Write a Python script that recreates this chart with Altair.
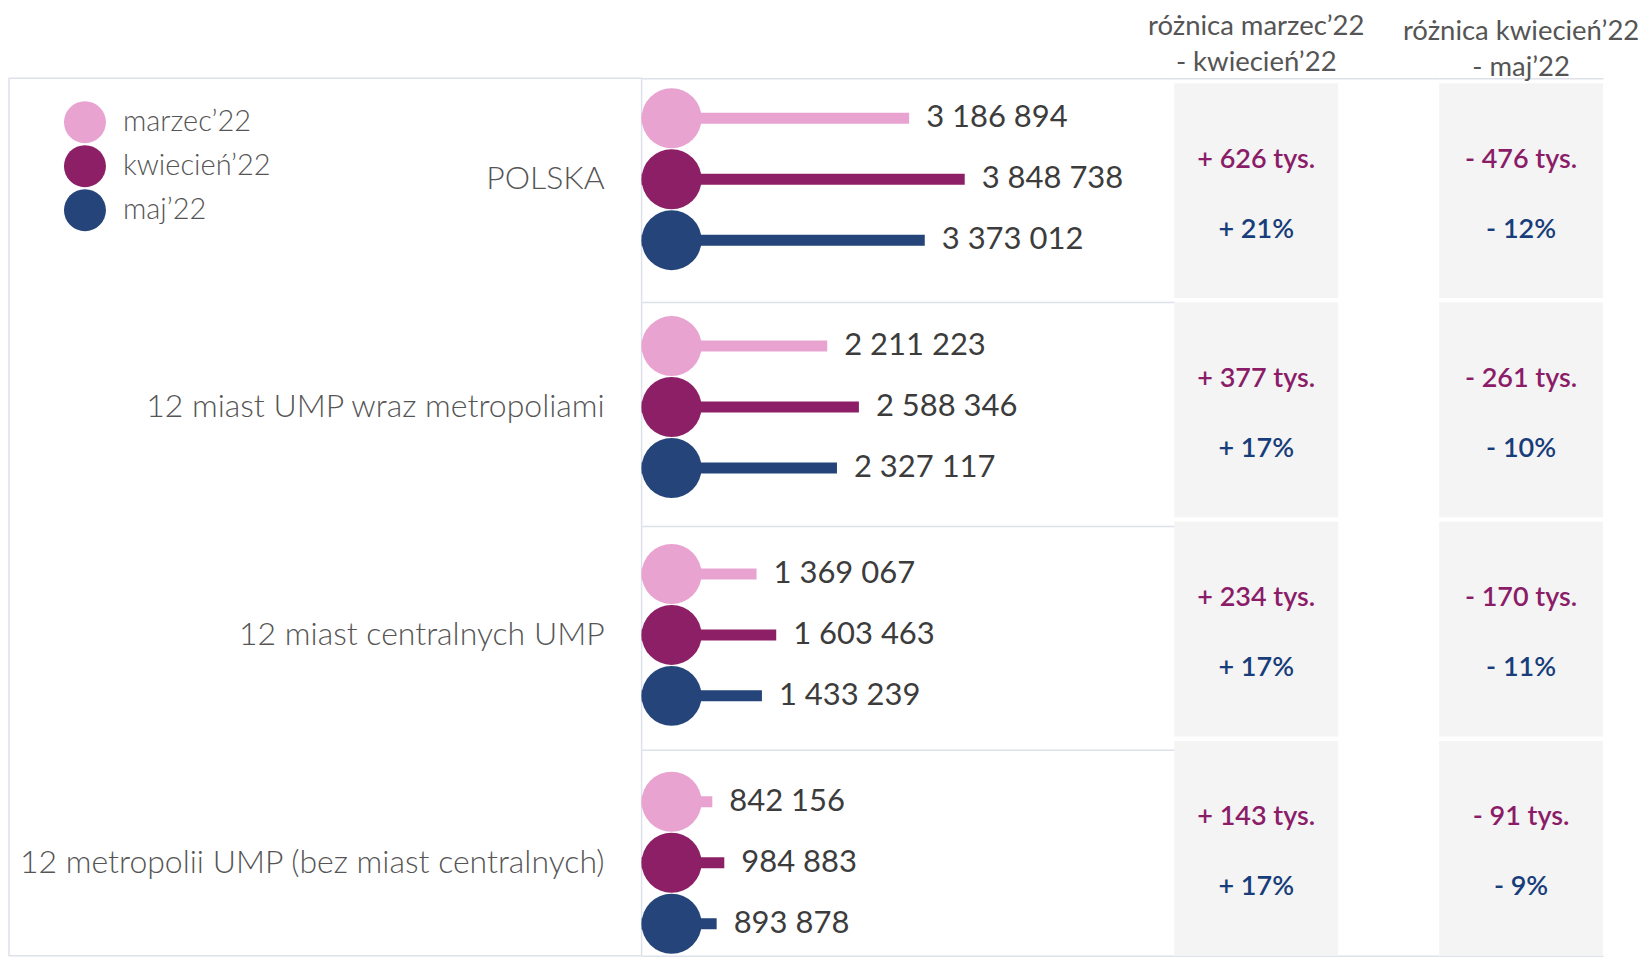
import altair as alt
import pandas as pd

# ---------------- data ----------------
groups = [
    "POLSKA",
    "12 miast UMP wraz metropoliami",
    "12 miast centralnych UMP",
    "12 metropolii UMP (bez miast centralnych)",
]
months = ["marzec’22", "kwiecień’22", "maj’22"]
values_marzec = [3186894, 2211223, 1369067, 842156]
values_kwiecien = [3848738, 2588346, 1603463, 984883]
values_maj = [3373012, 2327117, 1433239, 893878]
diff_mk_abs = ["+ 626 tys.", "+ 377 tys.", "+ 234 tys.", "+ 143 tys."]
diff_mk_pct = ["+ 21%", "+ 17%", "+ 17%", "+ 17%"]
diff_km_abs = ["- 476 tys.", "- 261 tys.", "- 170 tys.", "- 91 tys."]
diff_km_pct = ["- 12%", "- 10%", "- 11%", "- 9%"]
header_mk = ["różnica marzec’22", "- kwiecień’22"]
header_km = ["różnica kwiecień’22", "- maj’22"]
month_colors = ["#e8a3d0", "#8c1f66", "#25457a"]

rows = []
for g, a, b, c in zip(groups, values_marzec, values_kwiecien, values_maj):
    for m, v in zip(months, (a, b, c)):
        rows.append({"grupa": g, "miesiac": m, "wartosc": v,
                     "etykieta": f"{v:,}".replace(",", " ")})
bars_df = pd.DataFrame(rows)
diff_df = pd.DataFrame({"grupa": groups, "abs1": diff_mk_abs, "pct1": diff_mk_pct,
                        "abs2": diff_km_abs, "pct2": diff_km_pct})

# ---------------- layout ----------------
H = 878
W_LEFT, W_BARS, W_COL1, W_COL2 = 633, 533, 265, 164
BOX_W = 164
PX_PER_UNIT = 8.4e-5
x_max = W_BARS / PX_PER_UNIT
FONT = "Lato"
LINE = "#dde2ea"
PURPLE = "#8b1c68"
NAVY = "#173d7a"


def y_bars():
    return alt.Y("grupa:N", sort=groups,
                 scale=alt.Scale(domain=groups, range=[-13, H + 21],
                                 paddingInner=0, paddingOuter=0),
                 axis=None)


def y_offset():
    return alt.YOffset("miesiac:N", sort=months,
                       scale=alt.Scale(domain=months, paddingInner=0, paddingOuter=0.369))


def legend():
    return alt.Legend(
        title=None, orient="none", legendX=55, legendY=23,
        symbolType="circle", symbolSize=1764, symbolStrokeWidth=0,
        symbolOpacity=1, labelFont=FONT, labelFontWeight=300,
        labelFontSize=29, labelColor="#555555", rowPadding=2,
        labelOffset=17,
    )


def color_enc():
    return alt.Color("miesiac:N", sort=months,
                     scale=alt.Scale(domain=months, range=month_colors),
                     legend=legend())


line_axis = dict(domain=True, domainColor=LINE, domainWidth=1.5, labels=False,
                 ticks=False, grid=False, title=None)
x_bar_scale = alt.Scale(domain=[0, x_max], nice=False, zero=True)

# ---------------- left panel (labels) ----------------
left = alt.Chart(diff_df).mark_text(
    align="right", baseline="middle", font=FONT, fontWeight=300,
    fontSize=32, color="#555555"
).encode(
    y=y_bars(),
    x=alt.value(W_LEFT - 37),
    text="grupa:N",
).properties(width=W_LEFT, height=H,
             view=alt.ViewBackground(stroke=LINE, strokeWidth=1.5))

# ---------------- bar panel ----------------
grid_layer = alt.Chart(diff_df).mark_rect(opacity=0).encode(
    y=alt.Y("grupa:N", sort=groups,
            scale=alt.Scale(domain=groups, range=[0, H + 18],
                            paddingInner=0, paddingOuter=0),
            axis=alt.Axis(title=None, labels=False, ticks=False, domain=False,
                          grid=True, gridColor=LINE, gridWidth=1.5,
                          bandPosition=0, values=groups[1:])),
)

bars = alt.Chart(bars_df).mark_bar(size=11).encode(
    x=alt.X("wartosc:Q", scale=x_bar_scale, axis=alt.Axis(orient="top", **line_axis)),
    y=y_bars(),
    yOffset=y_offset(),
    color=color_enc(),
)

circles = alt.Chart(bars_df).mark_circle(size=3600, opacity=1, xOffset=30).encode(
    x=alt.X(datum=0, scale=x_bar_scale, axis=None),
    y=y_bars(),
    yOffset=y_offset(),
    color=color_enc(),
)

values = alt.Chart(bars_df).mark_text(
    align="left", baseline="middle", dx=17, font=FONT, fontSize=31, color="#3c3c3c"
).encode(
    x=alt.X("wartosc:Q", scale=x_bar_scale, axis=alt.Axis(orient="bottom", **line_axis)),
    y=y_bars(),
    yOffset=y_offset(),
    text="etykieta:N",
)

bar_panel = alt.layer(
    grid_layer, alt.layer(circles, bars, values)
).resolve_scale(y="independent", yOffset="independent").properties(width=W_BARS, height=H)


# ---------------- difference columns ----------------
def diff_panel(abs_field, pct_field, header, width, title_offset):
    col_y = alt.Y("grupa:N", sort=groups,
                  scale=alt.Scale(domain=groups, range=[5, H],
                                  paddingInner=0.02, paddingOuter=0),
                  axis=None)
    xs = alt.Scale(domain=[0, width / BOX_W], nice=False, zero=False)
    box = alt.Chart(diff_df).mark_rect(color="#f4f4f4").encode(
        x=alt.X(datum=0, scale=xs, axis=None),
        x2=alt.X2(datum=1),
        y=col_y,
    )
    t_abs = alt.Chart(diff_df).mark_text(
        font=FONT, fontWeight=600, fontSize=27, color=PURPLE, baseline="middle", dy=-31
    ).encode(
        x=alt.X(datum=0.5, scale=xs, axis=alt.Axis(orient="top", **line_axis)),
        y=col_y,
        text=f"{abs_field}:N",
    )
    t_pct = alt.Chart(diff_df).mark_text(
        font=FONT, fontWeight=600, fontSize=27, color=NAVY, baseline="middle", dy=39
    ).encode(
        x=alt.X(datum=0.5, scale=xs, axis=alt.Axis(orient="bottom", **line_axis)),
        y=col_y,
        text=f"{pct_field}:N",
    )
    return alt.layer(box, t_abs, t_pct).properties(
        width=width, height=H,
        title=alt.TitleParams(
            text=header, font=FONT, fontSize=27.5, fontWeight=400, color="#555555",
            anchor="middle", lineHeight=36, offset=title_offset,
            dx=-(width - BOX_W) / 2,
        ),
    )


col1 = diff_panel("abs1", "pct1", header_mk, W_COL1, 2)
col2 = diff_panel("abs2", "pct2", header_km, W_COL2, -3)

chart = alt.hconcat(
    left, bar_panel, col1, col2, spacing=0, bounds="flush"
).resolve_scale(
    x="independent", y="independent", color="shared"
).properties(
    padding={"top": 4, "left": 0, "right": 0, "bottom": 0}
).configure_view(
    strokeWidth=0
).configure_text(font=FONT)

chart.save("out.html", embed_options={"renderer": "svg", "actions": False})
